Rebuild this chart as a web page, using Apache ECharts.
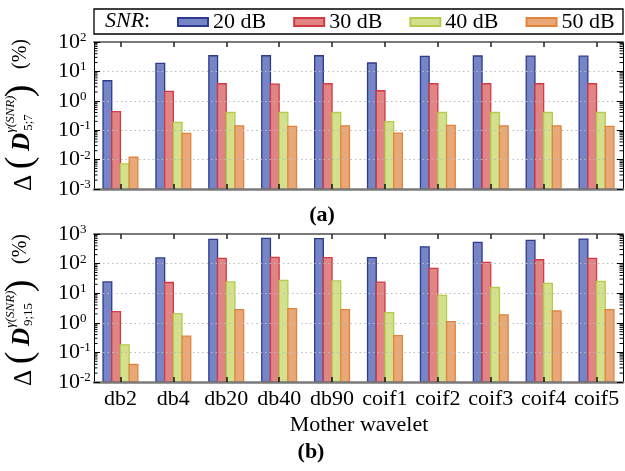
<!DOCTYPE html>
<html><head><meta charset="utf-8">
<script src="https://cdn.jsdelivr.net/npm/echarts@6/dist/echarts.min.js"></script>
<style>html,body{margin:0;padding:0;background:#fff}#c{width:625px;height:471px}</style>
</head><body><div id="c"></div>
<script>
const categories = ['db2','db4','db20','db40','db90','coif1','coif2','coif3','coif4','coif5'];
const seriesNames = ['20 dB','30 dB','40 dB','50 dB'];
// panel (a)
const a20 = [4.8, 18.8, 34, 34, 34, 19.3, 32.6, 33.4, 33, 33];
const a30 = [0.43, 2.1, 3.8, 3.7, 3.8, 2.2, 3.8, 3.8, 3.8, 3.8];
const a40 = [0.0072, 0.186, 0.40, 0.40, 0.40, 0.195, 0.40, 0.40, 0.40, 0.40];
const a50 = [0.012, 0.078, 0.14, 0.135, 0.14, 0.080, 0.147, 0.14, 0.14, 0.135];
// panel (b)
const b20 = [24, 155, 660, 713, 700, 158, 370, 520, 612, 676];
const b30 = [2.4, 23, 150, 162, 158, 23.6, 69, 110, 135, 150];
const b40 = [0.18, 2.05, 24, 27, 26, 2.2, 8.5, 15.6, 21.4, 25];
const b50 = [0.039, 0.355, 2.8, 3.0, 2.8, 0.37, 1.1, 1.85, 2.5, 2.8];
// axis decades
const aDecades = [0.001, 0.01, 0.1, 1, 10];
const bDecades = [0.01, 0.1, 1, 10, 100];
const minorMultipliers = [2, 3, 4, 5, 6, 7, 8, 9];

const F = 'Liberation Serif';
const fills = ['#7585c6', '#e08484', '#d5e08e', '#e9a878'];
const borders = ['#2e3a8e', '#d23a44', '#b4cc4c', '#e0843c'];
const BW = 8.7;

const chart = echarts.init(document.getElementById('c'), null, {renderer: 'canvas'});

function minorData(decades) {
  const out = [];
  decades.forEach(d => minorMultipliers.forEach(m => out.push([0, d * m])));
  return out;
}

function xAxesFor(gi, showLabels) {
  return [
    { type: 'category', gridIndex: gi, data: categories, position: 'bottom', z: 5,
      axisLine: { lineStyle: { color: '#7a7a7a', width: 2.5 } },
      axisTick: { show: true, inside: true, alignWithLabel: true, interval: 0, length: 5, lineStyle: { color: '#111', width: 1.5 } },
      axisLabel: { show: showLabels, interval: 0, fontFamily: F, fontSize: 22, color: '#000', margin: 6 },
      splitLine: { show: false } },
    { type: 'category', gridIndex: gi, data: categories, position: 'top', z: 5,
      axisLine: { lineStyle: { color: '#7a7a7a', width: 2 } },
      axisTick: { show: true, inside: true, alignWithLabel: true, interval: 0, length: 5, lineStyle: { color: '#222', width: 1.5 } },
      axisLabel: { show: false }, splitLine: { show: false } }
  ];
}

function yAxesFor(gi, min, max) {
  return [
    { type: 'log', logBase: 10, gridIndex: gi, min: min, max: max, interval: 1, position: 'left', z: 5,
      axisLine: { show: true, lineStyle: { color: '#000', width: 1 } },
      axisTick: { show: true, inside: true, length: 6, lineStyle: { color: '#000', width: 1 } },
      minorTick: { show: false },
      axisLabel: { align: 'left', margin: 36, color: '#000',
        formatter: v => '{b|10}{s|' + Math.round(Math.log10(v)) + '}',
        rich: { b: { fontFamily: F, fontSize: 22, color: '#000' },
                s: { fontFamily: F, fontSize: 13, color: '#000', verticalAlign: 'top' } } },
      splitLine: { show: true, lineStyle: { color: '#bbb', type: [1.5, 3], width: 1 } } },
    { type: 'log', logBase: 10, gridIndex: gi, min: min, max: max, interval: 1, position: 'right', z: 5,
      axisLine: { show: true, lineStyle: { color: '#000', width: 1 } },
      axisTick: { show: true, inside: true, length: 6, lineStyle: { color: '#000', width: 1 } },
      axisLabel: { show: false }, splitLine: { show: false } }
  ];
}

function barSeries(gi, arrays) {
  return arrays.map((arr, i) => ({
    type: 'custom', name: seriesNames[i], xAxisIndex: gi * 2, yAxisIndex: gi * 2,
    data: arr.map((v, k) => [k, v]), encode: { x: 0, y: 1 }, z: 2,
    itemStyle: { color: fills[i], borderColor: borders[i], borderWidth: 1.3 },
    silent: true, animation: false,
    renderItem: (params, api) => {
      const top = api.coord([api.value(0), api.value(1)]);
      const cs = params.coordSys;
      const bottom = cs.y + cs.height;
      const x = top[0] + (i - 2) * BW;
      return { type: 'rect', shape: { x: x, y: top[1], width: BW, height: bottom - top[1] },
        style: { fill: fills[i], stroke: borders[i], lineWidth: 1.3 } };
    }
  }));
}

function minorSeries(gi, decades) {
  return {
    type: 'custom', xAxisIndex: gi * 2, yAxisIndex: gi * 2, data: minorData(decades),
    encode: { x: 0, y: 1 }, silent: true, z: 6, animation: false,
    renderItem: (params, api) => {
      const p = api.coord([0, api.value(1)]);
      const cs = params.coordSys;
      return { type: 'group', children: [
        { type: 'line', shape: { x1: cs.x, y1: p[1], x2: cs.x + 3.5, y2: p[1] }, style: { stroke: '#000', lineWidth: 1 } },
        { type: 'line', shape: { x1: cs.x + cs.width, y1: p[1], x2: cs.x + cs.width - 3.5, y2: p[1] }, style: { stroke: '#000', lineWidth: 1 } }
      ] };
    }
  };
}

function yTitle(dy, sub, subLen) {
  const items = [
    { t: 'Δ', sx: 24, sy: 183, size: 25 },
    { t: '(', sx: 21, sy: 163, size: 38 },
    { t: 'D', sx: 23, sy: 142, size: 25, w: 'bold', st: 'italic' },
    { t: 'γ(SNR)', sx: 11, sy: 114, size: 13, st: 'italic' },
    { t: sub, sx: 29, sy: 131 - subLen / 2, size: 13 },
    { t: ')', sx: 21, sy: 91, size: 38 },
    { t: '(%)', sx: 21, sy: 54, size: 20 }
  ];
  return { type: 'group', x: 0, y: 0, rotation: Math.PI / 2,
    children: items.map(it => ({ type: 'text', x: -(it.sy + dy), y: it.sx,
      style: { text: it.t, fontFamily: F, fontSize: it.size, fontWeight: it.w || 'normal', fontStyle: it.st || 'normal',
               fill: '#000', align: 'center', verticalAlign: 'middle' } })) };
}

const option = {
  backgroundColor: '#fff',
  animation: false,
  grid: [
    { left: 94, right: 2, top: 42, height: 147 },
    { left: 94, right: 2, top: 234, height: 148 }
  ],
  legend: { data: seriesNames, left: 177, top: 11, padding: 0, itemWidth: 30, itemHeight: 8, itemGap: 27, icon: 'rect',
    selectedMode: false, textStyle: { fontFamily: F, fontSize: 22, color: '#000' } },
  xAxis: [...xAxesFor(0, false), ...xAxesFor(1, true)],
  yAxis: [...yAxesFor(0, 0.001, 100), ...yAxesFor(1, 0.01, 1000)],
  series: [
    ...barSeries(0, [a20, a30, a40, a50]),
    ...barSeries(1, [b20, b30, b40, b50]),
    minorSeries(0, aDecades),
    minorSeries(1, bDecades)
  ],
  graphic: [
    { type: 'rect', shape: { x: 94, y: 9, width: 529, height: 25 }, style: { fill: 'none', stroke: '#000', lineWidth: 1.3 }, z: 10 },
    { type: 'text', x: 105, y: 21.5, z: 10, style: { text: '{i|SNR}:', fontFamily: F, fontSize: 22, fill: '#000', verticalAlign: 'middle',
        rich: { i: { fontFamily: F, fontSize: 22, fontStyle: 'italic', fill: '#000' } } } },
    yTitle(0, '5;7', 17),
    yTitle(195, '9;15', 23),
    { type: 'text', x: 322, y: 215, style: { text: '(a)', fontFamily: F, fontSize: 22, fontWeight: 'bold', fill: '#000', align: 'center', verticalAlign: 'middle' } },
    { type: 'text', x: 311, y: 452, style: { text: '(b)', fontFamily: F, fontSize: 22, fontWeight: 'bold', fill: '#000', align: 'center', verticalAlign: 'middle' } },
    { type: 'text', x: 359, y: 425, style: { text: 'Mother wavelet', fontFamily: F, fontSize: 22, fill: '#000', align: 'center', verticalAlign: 'middle' } }
  ]
};
chart.setOption(option);
</script></body></html>
